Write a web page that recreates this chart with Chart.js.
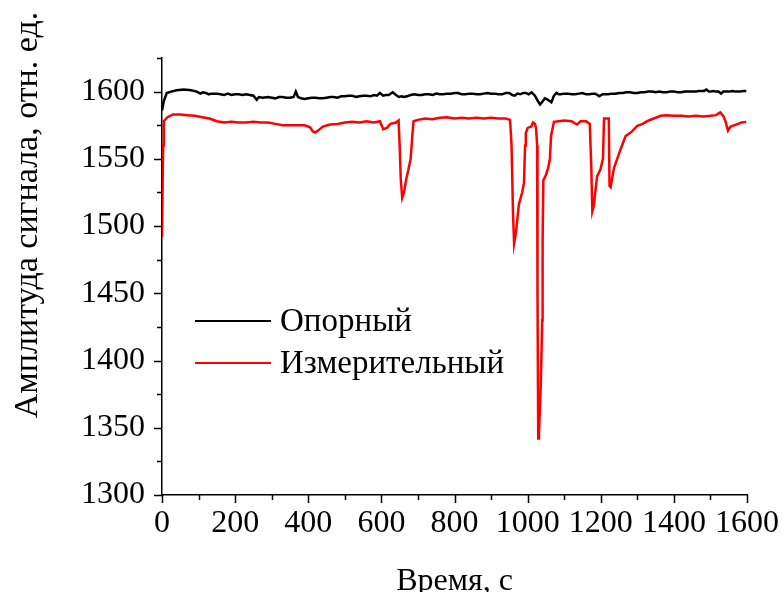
<!DOCTYPE html>
<html><head><meta charset="utf-8">
<script src="https://cdn.jsdelivr.net/npm/chart.js@4"></script>
<style>html,body{margin:0;padding:0;background:#fff}</style>
</head><body>
<canvas id="c" width="784" height="592" style="width:784px;height:592px;display:block"></canvas>
<script>
// ---- data ----
const seriesNames = ['Опорный', 'Измерительный'];
const seriesColors = ['#000000', '#ff0000'];
const xTitle = 'Время, с';
const yTitle = 'Амплитуда сигнала, отн. ед.';
const xTickLabels = ['0','200','400','600','800','1000','1200','1400','1600'];
const yTickLabels = ['1300','1350','1400','1450','1500','1550','1600'];

const timeRef = [
  0,5,13,25,40,60,80,95,105,112,
  120,128,135,150,160,170,180,190,200,210,
  220,230,240,250,259,265,275,290,300,310,
  320,330,340,350,360,366,372,380,390,400,
  410,420,430,440,450,460,470,480,490,500,
  510,520,530,540,550,560,570,580,588,596,
  605,612,620,631,640,648,655,662,670,680,
  690,700,710,720,730,740,750,760,770,780,
  790,800,810,820,830,840,850,860,870,880,
  890,900,910,920,930,940,950,958,965,972,
  980,988,995,1003,1011,1020,1028,1034,1042,1047,
  1055,1060,1065,1072,1079,1085,1090,1100,1110,1120,
  1130,1140,1150,1160,1170,1178,1185,1191,1196,1205,
  1212,1220,1230,1240,1250,1260,1270,1280,1290,1300,
  1310,1320,1330,1340,1350,1360,1370,1380,1390,1400,
  1410,1420,1430,1440,1450,1460,1467,1475,1482,1489,
  1496,1500,1508,1515,1522,1529,1535,1540,1550,1560,
  1570,1580,1590,1598];
const ampRef = [
  1586,1593,1599,1600,1601,1601.5,1601,1600,1598.5,1599.5,
  1599,1598,1598.5,1598.5,1598,1597.5,1598.5,1597.5,1598,1598,
  1597.5,1598,1597.5,1597,1594,1596,1595.5,1596,1595.5,1595,
  1596,1596,1595.5,1595.5,1596,1600,1596,1595,1594.5,1595,
  1595.5,1595.5,1595,1595,1595.5,1596,1596,1595.5,1596.5,1596.5,
  1597,1597,1596,1596.5,1597,1597,1596.5,1597.5,1597,1599,
  1597,1597.5,1597.5,1599.5,1597.5,1596,1596.5,1596,1596.5,1597.5,
  1598,1597.5,1597.5,1598,1598,1597.5,1598.5,1598,1598,1598.5,
  1598.5,1599,1599,1598,1598,1598.5,1598.5,1598,1598,1598.5,
  1599,1598.5,1598.5,1598,1598,1599,1599,1597.5,1597,1598.5,
  1598,1599,1599,1598,1599.5,1597,1593,1590.5,1593,1595,
  1594,1593,1592,1597,1599,1598,1598,1598.5,1598.5,1598,
  1598,1598.5,1599,1598,1598,1598.5,1598.5,1597.5,1596.5,1598,
  1598,1598,1598.5,1598.5,1599,1599,1599.5,1599.5,1599,1599,
  1599.5,1599.5,1600,1600,1599.5,1600,1599.5,1599.5,1600,1600,
  1599.5,1599.5,1600,1600,1600,1600,1600.5,1600.5,1600.5,1601.5,
  1600,1600,1600.5,1600,1600,1598.5,1600,1600,1600,1600.5,
  1600,1600,1600.5,1600.5];

const timeMeas = [
  0,3,5,15,30,50,70,90,110,130,
  150,170,190,210,230,250,270,290,310,330,
  350,370,390,405,412,419,427,440,460,480,
  500,520,540,560,580,596,605,615,625,640,
  647,650,653,657,662,668,674,680,684,688,
  700,720,740,760,780,800,820,840,860,880,
  900,920,940,952,956,960,963,968,976,985,
  990,993,995,1000,1010,1015,1020,1023,1026,1027,
  1029,1031,1036,1040,1041,1043,1050,1056,1061,1064,
  1072,1085,1100,1120,1135,1145,1160,1170,1174,1177,
  1181,1185,1190,1199,1206,1209,1222,1224,1227,1236,
  1245,1254,1268,1282,1300,1315,1327,1345,1364,1380,
  1400,1420,1440,1460,1480,1500,1515,1527,1535,1541,
  1548,1555,1570,1585,1598];
const ampMeas = [
  1492,1560,1578,1581,1583,1583,1582.5,1582,1581,1580,
  1578,1577,1577.5,1577,1577,1577.5,1577,1577,1576,1575,
  1575,1575,1575,1573.5,1570.5,1569.5,1571,1574,1575.5,1576,
  1577,1577.5,1577,1578,1577,1578,1572,1573,1576,1577,
  1578.5,1560,1535,1521,1525,1535,1542,1550,1565,1578,
  1579,1580,1579.5,1580.5,1581,1580,1580.5,1580,1580.5,1580,
  1580.5,1580,1580,1579,1560,1510,1487,1495,1516,1525,
  1532,1560,1569,1573,1574,1577,1576,1573,1560,1450,
  1342,1345,1383,1430,1490,1534,1538,1543,1550,1567,
  1577.5,1578,1578.5,1578,1575.5,1578,1578,1576,1545,1511,
  1515,1525,1537,1542,1550,1580,1580,1530,1529,1543,
  1550,1557,1567,1569.5,1574.5,1576,1578,1580,1582,1582.5,
  1582,1582,1581.5,1582,1581.5,1582,1582.5,1584.5,1582,1578,
  1571,1574,1575.5,1577,1577.5];

// ---- chart ----
const FONT = '"Liberation Serif", "Times New Roman", serif';
const FS = 32;

const decorations = {
  id: 'decorations',
  afterDraw(chart) {
    const ctx = chart.ctx;
    const xs = chart.scales.x, ys = chart.scales.y;
    ctx.save();
    ctx.strokeStyle = '#000';
    ctx.lineWidth = 1.5;
    xs.ticks.forEach(t => {
      const px = Math.round(xs.getPixelForValue(t.value)) + 0.5;
      const len = xTickLabels.includes(String(t.value)) ? 8 : 5;
      ctx.beginPath(); ctx.moveTo(px, xs.top); ctx.lineTo(px, xs.top + len); ctx.stroke();
    });
    ys.ticks.forEach(t => {
      const py = Math.round(ys.getPixelForValue(t.value)) + 0.5;
      const len = yTickLabels.includes(String(t.value)) ? 8 : 5;
      ctx.beginPath(); ctx.moveTo(ys.right, py); ctx.lineTo(ys.right - len, py); ctx.stroke();
    });
    ctx.fillStyle = '#000';
    ctx.font = FS + 'px ' + FONT;
    ctx.textAlign = 'center';
    ctx.textBaseline = 'alphabetic';
    ctx.fillText(xTitle, (chart.chartArea.left + chart.chartArea.right) / 2, 590);
    ctx.save();
    ctx.font = '34px ' + FONT;
    ctx.translate(37, 215);
    ctx.rotate(-Math.PI / 2);
    ctx.fillText(yTitle, 0, 0);
    ctx.restore();
    const lx0 = 195, lx1 = 271, ly0 = 321, dy = 42;
    ctx.font = '33px ' + FONT;
    chart.data.datasets.forEach((ds, i) => {
      const y = ly0 + i * dy;
      ctx.strokeStyle = ds.borderColor;
      ctx.lineWidth = 2.2;
      ctx.beginPath(); ctx.moveTo(lx0, y); ctx.lineTo(lx1, y); ctx.stroke();
      ctx.fillStyle = '#000';
      ctx.textAlign = 'left';
      ctx.textBaseline = 'middle';
      ctx.fillText(ds.label, 280, y + 1);
    });
    ctx.restore();
  }
};

new Chart(document.getElementById('c'), {
  type: 'line',
  data: {
    datasets: [
      { label: seriesNames[0], data: timeRef.map((t, i) => ({x: t, y: ampRef[i]})),
        borderColor: seriesColors[0], borderWidth: 2.5, pointRadius: 0, tension: 0, fill: false },
      { label: seriesNames[1], data: timeMeas.map((t, i) => ({x: t, y: ampMeas[i]})),
        borderColor: seriesColors[1], borderWidth: 2.5, pointRadius: 0, tension: 0, fill: false }
    ]
  },
  options: {
    responsive: false,
    animation: false,
    devicePixelRatio: 1,
    layout: { padding: { left: 0, right: 37, top: 58, bottom: 0 } },
    plugins: { legend: { display: false }, tooltip: { enabled: false } },
    scales: {
      x: {
        type: 'linear', min: 0, max: 1600,
        grid: { display: true, drawOnChartArea: false, drawTicks: true, tickLength: 8, color: 'rgba(0,0,0,0)' },
        border: { display: true, color: '#000', width: 1.5 },
        ticks: { stepSize: 100, autoSkip: false, maxRotation: 0, padding: 1, color: '#000',
          font: { family: FONT, size: FS },
          callback: v => xTickLabels.includes(String(v)) ? String(v) : '' },
        afterFit: s => { s.height = 97; }
      },
      y: {
        type: 'linear', min: 1300, max: 1625,
        grid: { display: true, drawOnChartArea: false, drawTicks: true, tickLength: 8, color: 'rgba(0,0,0,0)' },
        border: { display: true, color: '#000', width: 1.5 },
        ticks: { stepSize: 25, autoSkip: false, padding: 9, color: '#000',
          font: { family: FONT, size: FS },
          callback: v => yTickLabels.includes(String(v)) ? String(v) : '' },
        afterFit: s => { s.width = 162; }
      }
    }
  },
  plugins: [decorations]
});
</script>
</body></html>
